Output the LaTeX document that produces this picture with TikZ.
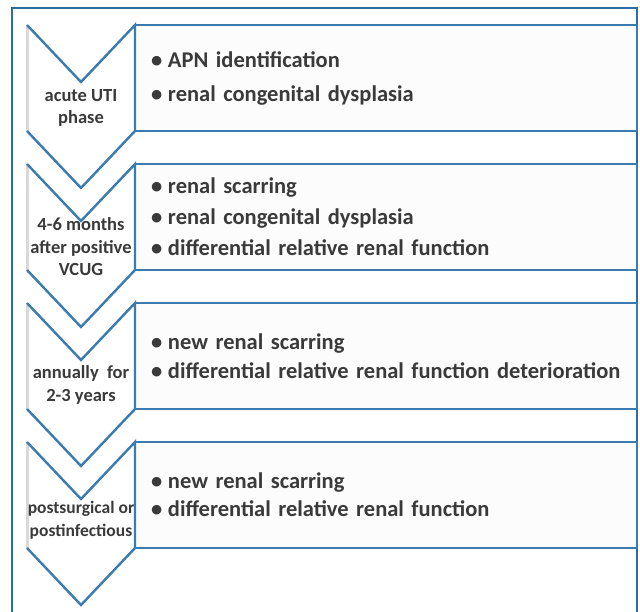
\documentclass[tikz,border=0pt]{standalone}
\usepackage{fontspec}
\setmainfont{Carlito}
\usetikzlibrary{positioning}
\definecolor{chv}{HTML}{3B7BB0}
\definecolor{frm}{HTML}{2E6CA4}
\definecolor{txt}{HTML}{3A3A3A}
\definecolor{boxbg}{HTML}{FCFCFC}
\newcommand{\itm}{\makebox[17pt][l]{\textbullet}}
\newcommand{\drawchev}[1]{%
  \fill[white] ([xshift=-108pt]#1.north west) -- ([xshift=-54pt,yshift=-57pt]#1.north west)
    -- (#1.north west) -- (#1.south west) -- ([xshift=-54pt,yshift=-57pt]#1.south west)
    -- ([xshift=-108pt]#1.south west) -- cycle;
  \draw[sideln] ([xshift=-108pt]#1.north west) -- ([xshift=-108pt]#1.south west);
  \draw[chev] ([xshift=-108pt]#1.north west) -- ([xshift=-54pt,yshift=-57pt]#1.north west)
    -- (#1.north west) -- (#1.south west) -- ([xshift=-54pt,yshift=-57pt]#1.south west)
    -- ([xshift=-108pt]#1.south west);
}
\tikzset{
  stage/.style  = {rectangle, draw=chv, line width=2.4pt, fill=boxbg, outer sep=0pt,
                   minimum width=502pt, minimum height=106pt, inner xsep=16pt,
                   text width=470pt, align=left, text=txt,
                   font=\fontsize{22.5}{31}\selectfont\bfseries},
  phase/.style  = {align=center, inner sep=0pt, text=txt,
                   font=\fontsize{18.5}{22.5}\selectfont\bfseries},
  chev/.style   = {draw=chv, line width=2.4pt, line join=miter},
  sideln/.style = {draw=gray!30, line width=3pt},
  frame/.style  = {draw=frm, line width=1.6pt},
}
\begin{document}
\begin{tikzpicture}[x=1pt, y=-1pt]
  \useasboundingbox[fill=white] (0,0) rectangle (640,611);

  \draw[frame] (12,630) |- (637,8) -- (637,630);

  \node[stage, anchor=north west, font=\fontsize{22.5}{34}\selectfont\bfseries] (b1) at (135,25)
    {\itm APN identification\\\itm renal congenital dysplasia};
  \node[stage, below=33pt of b1] (b2)
    {\itm renal scarring\\\itm renal congenital dysplasia\\\itm differential relative renal function};
  \node[stage, below=33pt of b2, font=\fontsize{22.5}{29}\selectfont\bfseries] (b3)
    {\itm new renal scarring\\\itm differential relative renal function deterioration};
  \node[stage, below=33pt of b3, font=\fontsize{22.5}{28}\selectfont\bfseries] (b4)
    {\itm new renal scarring\\\itm differential relative renal function};

  % chevrons on the left of each box
  \drawchev{b1}
  \drawchev{b2}
  \drawchev{b3}
  \drawchev{b4}

  \node[phase] (p1) at ([xshift=-54pt,yshift=-30pt]b1.west) {acute UTI\\phase};
  \node[phase] (p2) at ([xshift=-54pt,yshift=-30pt]b2.west) {4-6 months\\after positive\\VCUG};
  \node[phase] (p3) at ([xshift=-54pt,yshift=-29pt]b3.west) {annually~~for\\2-3 years};
  \node[phase, font=\fontsize{17.5}{23.5}\selectfont\bfseries] (p4)
    at ([xshift=-54pt,yshift=-25pt]b4.west) {postsurgical or\\postinfectious};
\end{tikzpicture}
\end{document}
